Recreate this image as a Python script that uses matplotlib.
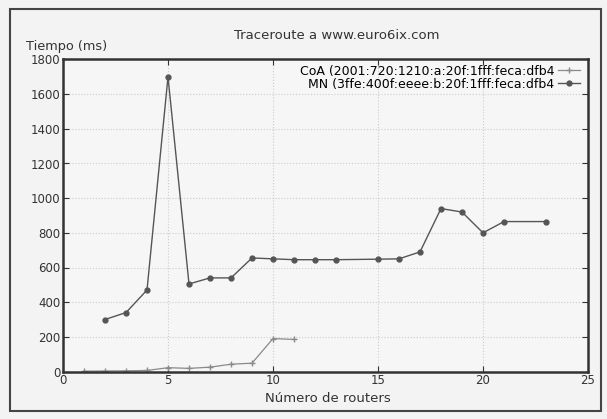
import matplotlib.pyplot as plt
from matplotlib.patches import Rectangle

# Traceroute times (ms) per router hop
coa_hops = [1, 2, 3, 4, 5, 6, 7, 8, 9, 10, 11]
coa_ms = [2, 3, 4, 6, 22, 18, 25, 42, 48, 190, 185]

mn_hops = [2, 3, 4, 5, 6, 7, 8, 9, 10, 11, 12, 13, 15, 16, 17, 18, 19, 20, 21, 23]
mn_ms = [300, 340, 470, 1700, 505, 540, 540, 655, 650, 645, 645, 645, 648, 650, 690, 940, 920, 800, 865, 865]

coa_label = 'CoA (2001:720:1210:a:20f:1fff:feca:dfb4'
mn_label = 'MN (3ffe:400f:eeee:b:20f:1fff:feca:dfb4'

xticks = [0, 5, 10, 15, 20, 25]
yticks = list(range(0, 1801, 200))

plt.rcParams['font.family'] = 'DejaVu Sans'
fig = plt.figure(figsize=(6.07, 4.19), dpi=100)
fig.patch.set_facecolor('#f3f3f3')
fig.patches.append(Rectangle((10 / 607, 8 / 419), 591 / 607, 402 / 419, transform=fig.transFigure,
                             fill=False, edgecolor='#444444', linewidth=1.5))

ax = fig.add_axes([63 / 607, 47.5 / 419, 525 / 607, 312 / 419])
ax.set_facecolor('#f6f6f6')

ax.plot(coa_hops, coa_ms, color='#8a8a8a', linewidth=0.9, marker='+', markersize=5, label=coa_label)
ax.plot(mn_hops, mn_ms, color='#555555', linewidth=1.0, marker='o', markersize=3.5, label=mn_label)

ax.set_xlim(0, 25)
ax.set_ylim(0, 1800)
ax.set_xticks(xticks)
ax.set_yticks(yticks)
ax.tick_params(direction='in', top=True, right=True, labelsize=8.5, colors='#333333', length=4, pad=2)
ax.grid(True, color='#cccccc', linestyle=':', linewidth=0.8)
for s in ax.spines.values():
    s.set_linewidth(1.8)
    s.set_color('#333333')

leg = ax.legend(loc='upper right', frameon=False, fontsize=9, markerfirst=False,
                handlelength=1.8, handletextpad=0.3, borderaxespad=0.0, labelspacing=0.02,
                bbox_to_anchor=(0.995, 1.0))

fig.text(0.555, 0.916, 'Traceroute a www.euro6ix.com', ha='center', va='center', fontsize=9.5, color='#333333')
fig.text(0.043, 0.888, 'Tiempo (ms)', ha='left', va='center', fontsize=9.3, color='#333333')
fig.text(0.54, 0.05, 'Número de routers', ha='center', va='center', fontsize=9.5, color='#333333')

fig.savefig('out.png', dpi=100, facecolor=fig.get_facecolor())
